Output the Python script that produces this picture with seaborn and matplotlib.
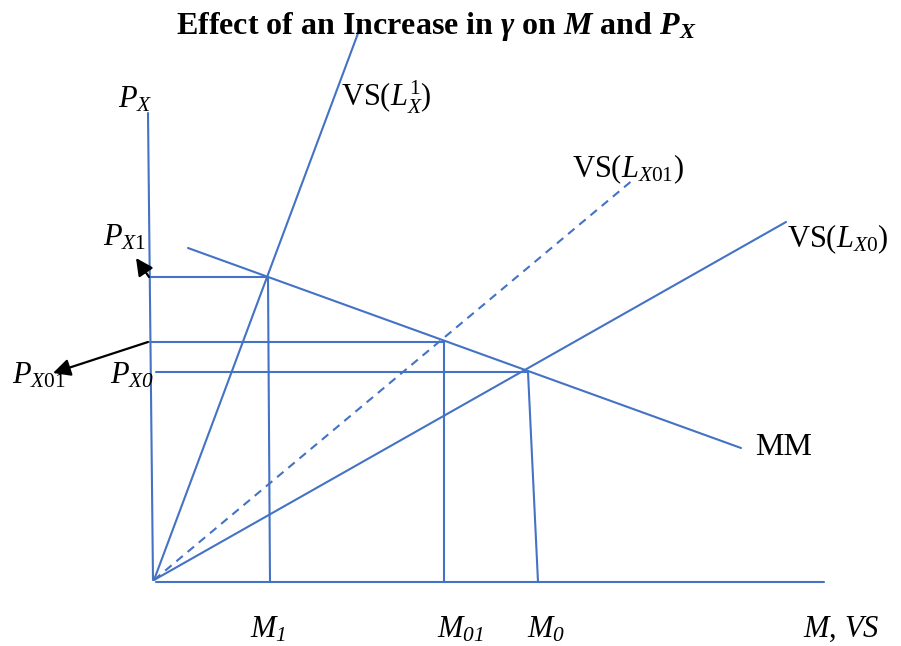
import matplotlib
matplotlib.use("Agg")
import matplotlib.pyplot as plt
import numpy as np
import pandas as pd
import seaborn as sns

sns.set_theme(style="white")
plt.rcParams["font.family"] = ["Liberation Serif", "DejaVu Serif"]
plt.rcParams["text.color"] = "black"
plt.rcParams["mathtext.fontset"] = "custom"
plt.rcParams["mathtext.rm"] = "Liberation Serif"
plt.rcParams["mathtext.it"] = "Liberation Serif:italic"
plt.rcParams["mathtext.sf"] = "Liberation Serif:italic"
plt.rcParams["mathtext.bf"] = "Liberation Serif:bold"
plt.rcParams["mathtext.bfit"] = "Liberation Serif:bold:italic"

BLUE = "#4472C4"

# Diagram geometry in canvas units (x to the right, y downward)
origin = (154, 580)
price_axis_x = [148, 153]
price_axis_y = [113, 580]
quantity_axis_x = [156, 824]
quantity_axis_y = [582, 582]

# Supply schedules radiating from the origin: VS(L1_X), VS(L_X01), VS(L_X0)
vs_names = ["VS1", "VS01", "VS0"]
vs_end_x = [360, 634, 786]
vs_end_y = [28, 179, 222]

# Demand schedule MM
mm_x = [188, 741]
mm_y = [248, 448]

# Equilibria: P_X1 / M_1, P_X01 / M_01, P_X0 / M_0
eq_names = ["1", "01", "0"]
eq_x = [268, 444, 528]
eq_price_y = [277, 342, 372]
guide_start_x = [150, 150, 156]
drop_bottom_x = [270, 444, 538]

rows = []
def seg(name, xs, ys):
    for x, y in zip(xs, ys):
        rows.append({"seg": name, "x": x, "y": y})

seg("price_axis", price_axis_x, price_axis_y)
seg("quantity_axis", quantity_axis_x, quantity_axis_y)
for n, ex, ey in zip(vs_names, vs_end_x, vs_end_y):
    if n != "VS01":
        seg(n, [origin[0], ex], [origin[1], ey])
seg("MM", mm_x, mm_y)
for n, x, py, sx, bx in zip(eq_names, eq_x, eq_price_y, guide_start_x, drop_bottom_x):
    seg("h" + n, [sx, x], [py, py])
    seg("v" + n, [x, bx], [py, quantity_axis_y[0]])
solid = pd.DataFrame(rows)

i01 = vs_names.index("VS01")
dashed = pd.DataFrame({"seg": ["VS01", "VS01"],
                       "x": [origin[0], vs_end_x[i01]],
                       "y": [origin[1], vs_end_y[i01]]})

fig = plt.figure(figsize=(9.01, 6.46), dpi=100)
ax = fig.add_axes([0, 0, 1, 1])

sns.lineplot(data=solid, x="x", y="y", units="seg", estimator=None, sort=False,
             color=BLUE, lw=1.5, ax=ax)
sns.lineplot(data=dashed, x="x", y="y", units="seg", estimator=None, sort=False,
             color=BLUE, lw=1.5, dashes=False, ax=ax)
ax.lines[-1].set_dashes((4, 3))

ax.set_xlim(0, 901)
ax.set_ylim(646, 0)
ax.axis("off")

# Arrows pointing to the price labels
arrow = dict(arrowstyle="-|>", color="black", lw=1.6, mutation_scale=26,
             shrinkA=0, shrinkB=0)
ax.annotate("", xy=(136, 258), xytext=(149, 277), arrowprops=arrow)
ax.annotate("", xy=(53, 373), xytext=(148, 342), arrowprops=arrow)

ax.text(436, 34, r"Effect of an Increase in $\mathbfit{\gamma}$ on $\mathbfit{M}$ and $\mathbfit{P_X}$",
        ha="center", va="baseline", fontsize=23, fontweight="bold")

fs = 22
ax.text(118, 108, r"$P_X$", ha="left", va="baseline", fontsize=fs)
ax.text(103, 245, r"$P_{X1}$", ha="left", va="baseline", fontsize=fs)
ax.text(12, 384, r"$P_{X01}$", ha="left", va="baseline", fontsize=fs)
ax.text(110, 384, r"$P_{\mathsf{X0}}$", ha="left", va="baseline", fontsize=fs)

ax.text(341, 107, r"VS($L_X^1$)", ha="left", va="baseline", fontsize=fs)
ax.text(572, 177, r"VS($L_{X01}$)", ha="left", va="baseline", fontsize=fs)
ax.text(787, 247, r"VS($L_{X0}$)", ha="left", va="baseline", fontsize=fs)
ax.text(755, 455, "MM", ha="left", va="baseline", fontsize=23)

ax.text(250, 637, r"$M_{\mathsf{1}}$", ha="left", va="baseline", fontsize=fs)
ax.text(437, 637, r"$M_{\mathsf{01}}$", ha="left", va="baseline", fontsize=fs)
ax.text(527, 637, r"$M_{\mathsf{0}}$", ha="left", va="baseline", fontsize=fs)
ax.text(803, 637, r"$M$, $VS$", ha="left", va="baseline", fontsize=fs)

fig.savefig("out.png", dpi=100)
